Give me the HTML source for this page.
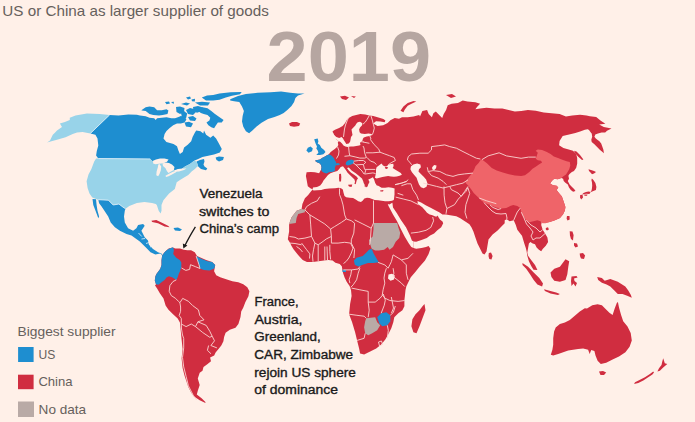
<!DOCTYPE html>
<html><head><meta charset="utf-8">
<style>
html,body{margin:0;padding:0;background:#FFF0E8;}
body{width:695px;height:422px;overflow:hidden;position:relative;font-family:"Liberation Sans",sans-serif;}
svg{position:absolute;left:0;top:0;}
.t{position:absolute;white-space:nowrap;}
</style></head><body>
<svg width="695" height="422" viewBox="0 0 695 422">
<g id="map" stroke="none">
<!--MAP-->
<path fill="#98D3E9" d="M69.8,117.8 75.5,115.6 86.9,113.5 99.7,113.9 109.6,114.9 90.4,133.4 82.6,132.0 77.0,132.4 72.7,134.1 65.6,137.2 57.0,139.8 51.4,141.2 47.1,142.6 46.0,143.2 50.0,140.5 52.8,134.8 54.9,132.7 57.0,130.5 62.0,127.0 59.9,123.4 64.9,122.0 69.8,119.9Z"/>
<path fill="#1E8ED0" d="M109.6,114.9 118.5,115.5 128.4,114.5 136.9,114.8 140.0,115.4 145.7,116.3 149.5,117.7 154.2,118.2 155.6,120.1 157.1,118.2 161.8,117.7 166.5,117.3 171.3,118.2 175.0,118.2 177.9,117.3 180.8,115.9 184.5,116.8 186.4,119.6 184.5,122.5 180.8,123.4 177.0,123.4 173.2,125.3 169.4,128.2 166.5,131.0 164.6,133.9 163.5,138.4 166.4,141.9 173.5,144.1 177.0,146.2 178.4,150.5 179.9,154.0 182.7,151.9 184.1,147.6 187.7,144.8 191.2,141.2 192.6,137.0 194.8,132.7 196.2,130.6 200.5,131.3 203.3,133.4 204.0,130.6 206.1,134.8 210.4,137.7 213.2,135.5 216.1,138.4 218.9,143.4 221.8,149.0 219.8,152.5 214.0,154.6 208.2,155.8 202.4,157.0 198.2,159.1 194.1,160.8 189.9,164.1 185.0,166.6 181.3,169.3 177.8,169.7 174.4,170.6 173.5,168.0 170.9,166.7 167.5,165.8 164.0,165.0 165.7,161.1 159.7,160.2 152.8,161.5 150.2,158.9 98.3,158.5 96.1,155.4 96.8,151.1 98.3,145.5 97.5,138.4 95.4,134.8 90.4,133.4Z"/>
<path fill="#1E8ED0" d="M196.6,161.6 199.9,160.0 204.0,159.1 204.5,161.5 203.5,164.5 204.5,166.5 207.3,168.5 206.0,170.2 201.0,169.0 198.2,166.6 197.4,164.1Z"/>
<path fill="#1E8ED0" d="M215.6,157.5 219.0,156.6 223.9,157.0 223.0,160.0 219.0,161.6 216.5,160.0Z"/>
<path fill="#1E8ED0" d="M141.4,110.2 145.7,107.3 149.5,106.4 154.2,107.3 157.1,110.2 161.8,110.2 166.5,109.2 168.4,110.6 167.5,114.0 162.7,114.9 159.0,115.4 153.3,114.9 149.5,114.0 145.7,111.1 141.9,110.6Z"/>
<path fill="#1E8ED0" d="M176.0,107.0 180.0,106.4 184.5,108.0 184.0,112.0 180.0,114.0 176.5,112.0Z"/>
<path fill="#1E8ED0" d="M186.0,110.0 190.0,108.0 194.0,109.0 196.0,112.0 193.0,115.0 188.0,114.0Z"/>
<path fill="#1E8ED0" d="M181.0,104.0 186.0,102.5 190.0,103.5 187.0,105.5Z"/>
<path fill="#1E8ED0" d="M195.0,102.6 202.0,101.8 210.0,102.6 208.0,105.4 200.0,105.4Z"/>
<path fill="#1E8ED0" d="M184.5,122.5 189.0,121.8 193.0,123.5 191.0,127.2 186.0,126.5Z"/>
<path fill="#1E8ED0" d="M188.0,117.0 193.0,116.0 196.5,118.5 195.0,121.0 190.0,120.5Z"/>
<path fill="#1E8ED0" d="M193.0,107.0 198.0,106.0 203.0,107.5 202.0,111.0 197.0,112.7 193.5,111.0Z"/>
<path fill="#1E8ED0" d="M165.0,102.0 169.0,101.4 170.0,103.5 166.5,104.2Z"/>
<path fill="#1E8ED0" d="M171.0,102.0 174.0,101.8 173.5,104.0Z"/>
<path fill="#1E8ED0" d="M186.0,97.5 190.0,96.6 191.0,98.5 188.0,99.5Z"/>
<path fill="#1E8ED0" d="M191.5,99.5 195.0,98.8 194.8,101.4 192.0,101.2Z"/>
<path fill="#1E8ED0" d="M180.6,111.0 184.0,110.9 187.2,113.5 186.0,118.4 182.0,117.5Z"/>
<path fill="#1E8ED0" d="M199.0,109.2 202.7,107.3 207.5,108.3 211.3,111.1 215.0,114.0 218.9,116.8 223.6,120.1 221.7,122.5 217.9,122.5 216.0,125.3 214.1,128.2 211.3,127.2 208.4,125.3 206.5,122.5 209.4,120.6 210.3,117.7 207.5,114.9 203.7,114.0 200.9,113.0 198.0,111.1Z"/>
<path fill="#1E8ED0" d="M201.8,97.5 207.0,95.5 213.2,95.0 219.5,93.5 230.6,92.3 241.7,91.9 240.0,94.2 232.0,95.8 225.8,97.4 219.5,99.8 213.2,100.6 206.0,100.6Z"/>
<path fill="#1E8ED0" d="M230.2,99.3 238.0,96.1 245.9,94.1 257.6,92.8 270.6,92.2 281.1,91.5 290.2,92.8 298.0,93.5 304.5,93.5 298.0,95.4 295.4,98.0 294.1,102.0 291.5,105.9 287.6,109.8 283.7,113.0 279.8,115.0 274.5,116.9 268.0,118.9 261.5,122.8 256.3,126.7 252.4,130.6 249.1,133.2 245.9,131.3 243.3,126.7 242.0,121.5 242.6,116.3 243.9,111.1 242.0,106.5 239.3,102.0 234.1,101.3 230.2,100.6Z"/>
<path fill="#D02D40" d="M289.0,123.5 292.0,122.0 297.0,122.0 300.2,123.5 299.0,126.0 294.0,126.7 290.0,126.0Z"/>
<path fill="#98D3E9" d="M96.1,158.5 150.2,158.9 152.8,161.5 159.7,160.2 165.7,161.1 164.0,165.0 167.5,165.8 170.9,166.7 173.5,168.0 174.4,170.6 177.8,169.7 181.3,169.3 185.0,166.6 189.9,164.1 194.1,160.8 196.6,161.6 197.4,164.1 198.2,166.6 197.4,166.6 194.9,169.1 191.6,171.6 188.3,174.9 184.1,177.4 180.0,179.9 176.7,182.3 174.8,188.9 169.1,193.6 163.4,200.2 161.5,205.0 161.5,210.7 160.6,213.5 158.7,210.7 156.8,205.0 155.8,204.0 152.0,203.1 144.5,202.1 136.9,203.1 129.3,205.9 125.5,208.8 122.7,206.9 118.9,204.0 113.2,205.0 108.4,200.2 98.0,199.7 92.3,197.4 89.5,193.6 87.6,187.9 86.6,181.3 88.5,174.6 91.4,169.0 94.2,161.4Z"/>
<path fill="#1E8ED0" d="M98.3,199.7 108.4,200.2 113.2,205.0 118.9,204.0 122.7,206.9 125.5,208.8 124.8,210.8 124.0,216.6 124.8,222.4 128.1,228.2 133.1,230.7 136.4,228.2 138.1,224.9 143.1,224.0 144.7,225.7 141.4,230.7 144.7,237.3 148.0,240.6 148.9,244.8 153.0,248.9 158.0,252.2 161.5,253.5 162.2,255.5 160.3,253.6 155.4,254.6 150.5,252.2 146.4,248.1 139.8,241.4 131.5,235.6 126.5,234.0 119.9,230.7 114.9,227.3 110.7,222.4 108.2,216.6 104.9,211.6 101.6,206.6 99.1,203.3Z"/>
<path fill="#1E8ED0" d="M92.5,199.1 96.0,199.3 96.6,205.0 97.5,210.8 99.1,216.6 98.3,218.2 95.8,211.6 93.3,205.0Z"/>
<path fill="#D02D40" d="M151.4,220.7 156.3,219.9 163.0,223.2 168.0,225.7 169.6,227.3 164.6,226.5 158.0,223.2 152.2,221.9Z"/>
<path fill="#1E8ED0" d="M173.5,228.0 178.0,227.5 182.0,229.5 180.0,231.0 175.0,230.5Z"/>
<path fill="#FFF0E8" d="M153.0,160.8 156.0,159.5 160.0,158.6 164.5,158.4 168.5,159.5 167.0,161.8 163.0,163.2 159.0,163.7 155.5,164.3 153.2,163.5Z"/>
<path fill="#FFF0E8" d="M159.5,164.0 161.2,166.5 160.8,170.5 159.5,174.0 158.2,176.3 156.3,175.3 156.6,171.5 157.8,167.5 158.3,164.5Z"/>
<path fill="#FFF0E8" d="M162.5,163.5 166.0,162.5 169.0,163.0 172.0,164.5 174.5,167.0 173.8,170.0 171.0,171.5 168.5,173.0 167.0,171.3 165.5,168.3 163.0,166.0Z"/>
<path fill="#FFF0E8" d="M165.5,175.8 169.0,173.8 173.0,171.8 177.0,170.5 176.0,172.3 172.0,174.5 168.5,176.2 166.0,177.0Z"/>
<path fill="#FFF0E8" d="M174.5,170.2 178.0,169.0 182.5,168.4 186.5,168.4 184.0,170.0 179.0,171.5 175.0,171.8Z"/>
<path fill="#D02D40" d="M162.2,255.2 165.2,251.5 168.7,248.5 172.5,247.6 175.4,248.5 177.3,248.5 180.0,248.5 183.7,249.7 187.4,250.3 191.1,250.3 194.8,252.2 197.0,256.0 206.1,260.1 212.1,262.1 215.2,265.1 214.1,271.2 216.2,275.2 220.2,277.2 226.2,279.2 232.3,281.2 238.3,282.2 243.3,284.2 247.3,287.3 249.4,291.3 248.4,296.3 245.3,302.3 243.3,307.4 241.2,311.4 240.5,317.0 238.4,324.1 235.5,327.7 229.8,329.8 225.6,332.7 224.1,336.9 223.4,341.2 221.3,345.5 218.5,349.0 215.6,352.6 214.2,355.4 210.1,357.5 211.0,361.3 207.3,364.2 203.5,367.0 202.5,370.8 199.7,372.7 197.8,378.4 199.7,385.0 197.8,390.7 196.8,394.5 201.6,398.3 205.4,402.1 205.4,403.1 199.7,400.2 194.0,396.4 191.1,392.6 188.3,386.9 186.4,381.2 184.5,375.5 182.6,368.0 181.6,358.5 182.6,349.0 181.6,339.5 180.7,330.0 179.9,322.6 177.7,318.4 172.8,314.1 168.5,309.8 165.6,305.6 163.5,298.4 160.0,293.5 157.1,288.5 155.0,285.6 156.0,284.2 154.8,280.5 155.4,276.2 156.6,273.7 158.5,271.3 160.3,268.8 161.5,265.1 161.5,260.2 162.2,255.2Z"/>
<path fill="#1E8ED0" d="M162.2,255.2 165.2,251.5 168.3,249.1 170.8,247.9 173.2,247.2 173.9,250.3 173.2,254.0 176.3,257.7 180.0,260.2 181.3,262.6 181.3,267.6 180.0,271.3 178.8,273.7 177.6,277.4 176.3,279.9 172.6,277.4 168.9,276.2 166.5,277.4 164.6,279.9 161.5,282.3 158.5,284.8 156.0,284.2 154.8,280.5 155.4,276.2 156.6,273.7 158.5,271.3 160.3,268.8 161.5,265.1 161.5,260.2Z"/>
<path fill="#1E8ED0" d="M196.2,256.1 201.9,259.0 207.6,261.3 212.1,262.1 215.2,265.1 214.3,268.5 209.5,270.4 203.8,270.0 200.0,268.5 199.0,264.7 197.2,260.0Z"/>
<path fill="#D02D40" d="M332.8,132.2 332.6,131.2 335.0,129.7 339.1,128.1 342.6,126.1 345.1,123.1 346.7,120.1 348.7,118.1 352.2,116.1 356.2,115.1 360.3,114.0 365.3,114.5 369.3,115.5 373.3,116.0 378.4,117.6 383.4,119.1 385.4,120.6 384.7,122.3 380.4,121.6 376.0,121.2 373.2,123.5 377.5,125.9 383.2,125.2 387.6,123.1 390.4,120.2 394.7,118.0 399.0,118.7 402.0,117.3 407.7,117.3 413.5,116.6 419.2,115.1 420.0,116.4 422.4,110.9 427.1,110.1 428.7,114.0 431.9,117.2 433.4,113.2 435.8,111.6 439.0,114.8 442.2,118.0 443.7,114.0 446.1,110.1 447.7,105.3 451.6,103.7 458.0,102.9 462.7,100.6 467.5,101.4 475.4,102.2 480.1,103.7 477.0,106.9 475.4,109.3 480.1,108.5 486.5,107.7 494.4,108.5 502.3,108.5 508.6,110.1 514.9,111.6 521.3,110.9 527.9,110.0 535.8,110.8 543.7,112.4 551.6,113.2 559.6,114.0 565.9,116.4 572.2,115.6 580.1,114.8 586.5,115.6 590.0,116.2 596.2,116.9 600.8,120.8 605.4,123.8 599.2,124.6 603.8,126.9 611.5,128.5 607.0,130.8 605.2,132.6 601.6,132.6 598.0,133.5 595.3,134.4 594.4,136.7 595.8,138.5 598.0,140.3 599.4,141.2 601.2,143.4 602.1,146.1 603.4,149.7 603.9,153.3 602.5,152.0 599.8,149.7 597.1,147.0 594.4,144.3 591.7,142.1 591.3,139.8 592.2,136.7 591.7,133.5 590.8,132.5 589.0,130.0 587.7,129.3 584.9,129.8 580.1,131.4 575.4,133.0 569.1,134.6 562.7,136.1 559.6,140.9 559.1,145.3 563.4,148.0 568.7,149.6 573.0,150.7 576.2,153.9 577.2,158.1 577.2,163.5 576.2,167.7 574.0,170.9 571.9,172.0 569.5,174.0 568.4,175.7 569.0,178.7 567.8,181.0 569.6,184.6 572.0,186.9 574.3,189.3 575.5,191.1 573.1,191.7 570.8,189.9 569.0,187.5 567.8,184.6 565.4,182.8 563.7,181.0 563.1,178.7 561.3,178.1 557.8,179.2 554.2,178.7 551.8,181.0 550.1,183.4 553.0,185.2 556.6,185.8 558.3,187.5 556.6,189.9 558.9,192.9 561.9,196.4 563.1,200.0 564.3,203.5 565.4,207.1 564.9,210.6 563.1,214.2 560.0,218.1 554.3,220.4 549.7,221.9 545.1,222.7 542.0,220.4 541.2,225.0 542.7,229.7 545.1,233.5 547.4,237.4 548.1,242.0 545.8,245.8 542.7,248.9 541.2,251.2 538.9,249.7 536.6,247.4 535.0,244.3 532.7,243.5 530.4,242.0 528.9,243.5 528.1,248.1 527.3,252.8 528.1,255.8 530.4,258.9 532.7,262.0 535.0,265.1 536.6,268.2 537.4,270.0 533.5,269.7 531.2,265.9 528.9,261.2 527.3,255.8 526.6,251.2 525.8,248.1 524.3,243.5 522.0,235.8 519.6,232.7 517.3,229.7 515.8,225.0 513.7,220.3 509.7,221.3 506.7,219.3 504.7,220.3 504.7,223.3 501.7,226.3 497.6,230.4 492.6,234.4 488.5,239.4 487.5,245.5 486.5,251.5 484.5,254.6 482.5,253.5 480.5,249.5 477.5,243.5 475.4,237.4 473.4,231.4 471.4,227.3 469.4,224.3 466.4,222.3 463.3,220.3 460.3,218.3 456.3,216.3 450.2,215.2 446.0,214.6 442.4,214.6 439.6,212.6 435.3,210.3 431.1,208.0 426.1,205.4 421.1,202.5 417.5,201.0 417.8,204.0 422.3,207.2 425.2,210.6 427.0,212.8 429.7,214.4 432.5,215.3 435.3,216.4 436.8,216.6 437.6,215.6 438.8,217.8 440.2,219.8 442.5,221.5 443.2,223.3 441.2,227.3 437.1,230.4 434.1,233.4 430.1,235.4 426.8,238.1 421.5,239.9 416.2,241.7 413.5,241.5 413.5,247.9 416.2,248.8 421.5,247.9 426.0,247.0 428.6,246.1 430.4,248.8 428.6,254.1 425.0,260.4 419.7,266.6 415.3,271.9 410.8,277.3 408.2,282.6 406.4,286.2 405.5,290.0 404.9,296.0 404.4,300.1 404.4,306.2 402.4,310.2 398.3,313.2 394.3,317.2 393.3,322.3 391.3,328.3 388.3,334.3 385.3,339.4 381.2,344.4 376.2,348.4 370.2,351.4 364.1,354.4 360.1,353.4 359.1,348.4 357.1,340.4 355.1,332.3 352.1,322.3 349.1,314.2 350.1,304.1 351.6,296.0 351.0,290.0 349.6,286.1 346.8,281.9 344.6,277.6 343.2,273.4 342.5,270.5 341.8,266.3 339.7,264.1 335.4,262.7 332.6,260.6 328.3,259.9 324.0,260.6 318.4,261.3 312.7,262.0 307.0,262.0 302.7,259.9 299.2,256.3 296.3,252.8 293.5,249.2 291.4,245.7 290.0,242.8 287.8,239.3 288.5,235.0 289.1,231.4 289.1,224.8 290.0,221.4 291.6,217.3 294.1,214.0 296.6,210.7 301.6,209.0 302.4,204.0 304.9,198.2 308.2,194.9 311.5,190.8 313.0,189.5 310.4,188.2 307.8,186.3 307.2,183.0 306.5,179.1 305.9,175.9 306.6,172.3 310.8,171.9 314.9,172.3 319.1,173.2 321.1,169.4 321.5,167.4 321.1,165.3 319.9,163.6 317.4,162.4 315.7,161.6 315.3,160.3 317.4,159.9 319.9,159.5 322.4,157.8 324.9,156.6 326.5,155.4 328.6,154.5 330.7,152.1 333.0,150.2 334.8,149.1 337.3,146.7 338.3,145.0 337.8,142.6 338.7,141.2 336.5,139.5Z"/>
<path fill="#FFF0E8" d="M336.5,139.5 338.7,141.2 340.2,141.7 342.0,143.6 343.5,145.5 345.4,146.4 347.7,146.9 350.6,146.4 353.4,146.4 356.3,145.9 359.1,145.5 360.5,145.0 360.0,143.1 361.0,141.7 362.4,140.7 362.9,138.8 363.8,137.4 366.7,136.5 369.5,136.0 372.3,135.0 371.4,134.1 368.6,133.6 364.8,134.1 361.0,133.6 359.6,132.2 359.1,129.4 360.0,127.5 361.9,125.6 362.4,123.2 360.0,121.8 357.7,122.3 356.3,123.7 355.3,125.6 353.4,127.5 351.5,129.4 352.0,132.2 352.5,135.0 351.0,136.9 350.6,139.3 350.1,141.7 348.7,143.6 346.3,144.0 345.4,142.6 343.9,140.3 343.0,138.4 341.6,136.9 339.2,137.9 336.4,136.9 334.0,135.0 333.0,132.2 334.0,137.0Z"/>
<path fill="#FFF0E8" d="M312.5,189.5 313.0,187.6 317.0,186.9 320.2,185.6 322.2,183.0 323.5,180.5 325.8,177.8 328.0,175.0 330.4,173.2 333.8,172.1 337.3,170.9 339.0,169.2 340.7,166.9 343.0,166.3 345.3,169.2 347.6,172.7 349.9,175.0 352.2,177.3 354.5,179.6 355.1,181.9 354.3,183.5 355.7,184.2 356.8,180.1 358.0,178.4 356.8,176.7 354.5,175.0 351.1,172.7 348.8,170.4 347.0,168.1 348.8,167.5 351.6,170.4 355.7,173.2 359.1,176.1 362.0,178.4 363.2,181.3 363.7,183.0 364.9,185.3 366.0,187.6 367.2,186.5 368.3,184.2 369.5,181.9 368.3,179.6 370.6,178.4 372.9,177.3 374.1,179.6 375.2,183.0 376.8,185.5 378.2,185.8 381.6,187.8 385.1,187.8 388.5,187.3 392.0,187.8 394.6,188.6 394.5,191.1 394.5,194.5 394.0,199.1 393.7,199.9 392.0,200.7 388.5,201.2 385.1,201.2 381.6,200.7 378.2,200.3 374.7,199.9 372.1,199.0 369.5,198.1 367.0,197.7 364.4,198.6 362.6,200.7 360.9,202.0 358.3,201.2 355.7,199.4 353.1,198.1 349.7,197.7 346.2,197.3 344.5,196.0 343.6,193.0 342.8,189.5 341.0,188.2 338.5,187.8 335.0,188.2 329.2,188.5 324.6,189.0 321.2,190.0 317.0,190.2 313.5,190.5Z"/>
<path fill="#FFF0E8" d="M376.6,167.2 379.5,164.9 381.5,163.5 383.0,165.5 385.2,166.6 387.0,166.0 388.7,164.6 391.0,164.0 393.3,163.7 393.6,166.0 392.7,168.1 395.0,169.5 397.9,171.2 400.8,172.9 401.9,174.7 399.6,175.8 396.7,176.4 393.9,176.7 391.0,176.4 388.1,176.1 385.2,176.4 382.4,177.0 379.5,177.8 376.6,178.4 374.9,177.8 375.5,175.2 376.0,172.4 376.0,169.5Z"/>
<path fill="#D02D40" d="M384.8,167.3 386.5,166.8 388.2,167.6 387.0,169.0 385.5,168.8Z"/>
<path fill="#FFF0E8" d="M413.3,164.5 417.1,163.5 420.4,164.5 420.9,167.3 419.0,169.2 418.5,171.6 420.9,174.0 423.7,176.8 426.1,179.6 427.5,183.4 426.5,186.8 423.7,188.2 420.9,187.2 419.0,184.4 417.5,180.6 416.6,177.7 414.2,174.9 411.8,172.1 410.4,169.2 410.9,166.4Z"/>
<path fill="#FFF0E8" d="M432.2,167.3 434.1,165.0 436.5,165.4 436.0,168.3 434.1,170.2 432.2,169.2Z"/>
<path fill="#FFF0E8" d="M387.8,204.1 389.5,204.6 391.0,203.5 392.4,202.8 393.0,207.4 396.9,213.2 400.8,219.8 406.1,227.6 410.0,235.4 411.9,240.6 413.6,241.5 413.6,247.9 411.3,247.1 408.7,243.2 404.8,236.7 400.8,228.9 396.9,221.1 393.0,214.5 388.5,206.1Z"/>
<path fill="#FFF0E8" d="M388.5,274.5 392.0,273.7 394.8,275.5 394.0,279.5 390.5,280.8 388.0,278.5Z"/>
<path fill="#1E8ED0" d="M315.3,160.3 317.4,159.9 319.9,159.5 322.4,157.8 324.9,156.6 326.5,155.4 328.6,154.5 330.7,154.9 332.3,156.2 334.0,158.3 334.8,160.3 336.0,162.0 336.3,164.0 335.6,166.1 334.8,168.2 335.2,170.3 334.0,171.5 331.5,171.9 329.0,172.3 326.5,173.6 324.0,172.8 322.0,171.5 321.1,169.4 321.5,167.4 321.1,165.3 319.9,163.6 317.4,162.4 315.7,161.6Z"/>
<path fill="#1E8ED0" d="M335.7,163.8 337.5,162.9 339.5,163.5 339.8,164.7 338.0,165.2 336.0,165.2Z"/>
<path fill="#1E8ED0" d="M346.0,162.3 347.8,160.4 351.6,159.6 354.2,160.8 353.8,163.2 350.6,164.7 347.4,165.4 345.6,164.2Z"/>
<path fill="#1E8ED0" d="M314.2,139.3 317.7,138.6 318.4,141.4 317.7,143.5 319.9,144.9 321.3,147.8 324.1,149.9 325.5,152.0 323.4,154.2 319.9,154.9 316.3,154.9 318.4,152.8 317.7,150.6 316.3,148.5 317.0,146.4 315.6,143.5 314.9,141.4Z"/>
<path fill="#1E8ED0" d="M307.8,147.8 310.6,146.4 312.8,148.5 312.0,151.3 308.5,152.8 306.4,150.6Z"/>
<path fill="#B9AAA6" d="M304.9,209.8 301.6,209.0 296.6,210.7 294.1,214.0 291.6,217.3 290.0,221.4 289.1,223.9 295.8,223.1 296.6,218.1 298.2,214.0 304.9,212.3Z"/>
<path fill="#B9AAA6" d="M373.5,223.0 397.2,223.0 398.4,227.5 400.2,232.8 399.3,238.1 395.7,241.7 393.0,247.0 389.5,249.7 387.7,247.0 384.1,249.7 378.8,250.6 375.2,250.6 371.7,248.8 369.9,243.5 369.0,239.9 372.6,236.4 373.5,229.2Z"/>
<path fill="#1E8ED0" d="M369.0,249.7 371.7,248.8 373.5,253.3 376.1,257.7 378.8,262.2 373.5,263.0 368.1,263.0 362.8,264.8 358.3,266.6 354.8,264.8 353.9,260.4 356.6,257.7 362.8,255.9 366.4,252.4Z"/>
<path fill="#1E8ED0" d="M342.5,269.8 345.8,269.8 346.0,271.9 342.6,271.9Z"/>
<path fill="#B9AAA6" d="M366.2,318.2 375.2,317.2 377.2,322.3 380.2,325.3 377.2,330.3 372.2,333.3 368.2,335.3 365.2,333.3 364.1,327.3 365.2,321.2Z"/>
<path fill="#1E8ED0" d="M377.2,317.2 381.2,313.2 386.3,312.2 390.3,315.2 390.3,321.2 387.3,325.3 382.3,326.3 379.2,323.3Z"/>
<path fill="#EF6469" d="M465.4,182.8 466.6,180.5 469.0,176.9 472.5,172.8 474.3,169.2 475.5,166.3 478.4,163.3 480.8,159.7 482.0,159.6 486.9,163.2 491.8,168.1 496.7,170.6 502.8,172.4 508.9,174.2 515.0,175.5 521.1,176.1 525.0,175.2 529.3,172.0 532.5,168.8 535.7,166.7 538.9,164.5 542.1,162.4 541.0,160.8 537.8,160.3 535.7,158.7 536.7,156.0 537.8,152.8 535.7,150.7 537.8,149.6 542.1,150.1 546.3,151.7 550.6,153.9 553.8,156.5 558.0,158.1 562.3,159.7 566.6,161.3 569.8,161.9 570.3,165.6 569.2,169.3 567.6,172.0 566.0,174.6 563.4,176.2 561.3,178.1 557.8,179.2 554.2,178.7 551.8,181.0 550.1,183.4 553.0,185.2 556.6,185.8 558.3,187.5 556.6,189.9 558.9,192.9 561.9,196.4 563.1,200.0 564.3,203.5 565.4,207.1 564.9,210.6 563.1,214.2 560.0,218.1 554.3,220.4 549.7,221.9 545.5,223.2 542.4,223.2 540.4,221.2 537.4,220.2 533.4,221.2 529.3,222.2 526.3,220.2 523.3,216.2 521.3,212.2 520.3,208.1 517.3,206.1 513.2,205.1 510.2,206.1 506.2,208.1 501.1,208.6 496.1,207.6 490.1,205.1 484.0,202.6 480.8,200.0 477.3,196.5 473.7,192.9 471.3,189.4 468.4,185.8Z"/>
<path fill="#D02D40" d="M424.5,304.1 425.5,310.2 422.5,318.2 419.5,326.3 416.5,333.3 413.4,332.3 411.4,326.3 412.4,319.2 415.5,314.2 419.5,310.2 422.5,306.2Z"/>
<path fill="#D02D40" d="M488.8,253.0 491.0,252.5 492.6,256.0 491.5,259.6 489.3,259.0 488.5,256.0Z"/>
<path fill="#D02D40" d="M591.9,178.4 593.4,179.9 595.4,182.9 596.4,186.9 595.9,189.9 593.4,190.9 590.9,191.9 588.5,191.4 586.0,191.9 583.5,192.9 582.0,194.4 584.0,194.3 586.0,193.8 589.4,194.0 590.5,192.3 591.6,190.3 592.0,188.0 592.2,185.5 592.0,182.4 591.4,180.0Z"/>
<path fill="#D02D40" d="M580.2,195.0 582.5,194.8 583.0,197.5 581.2,199.4 580.0,197.5Z"/>
<path fill="#D02D40" d="M584.2,194.6 587.5,194.5 587.0,195.8 584.5,195.8Z"/>
<path fill="#D02D40" d="M588.5,169.3 591.0,170.0 594.0,171.0 596.0,172.0 594.0,173.5 592.0,174.2 590.5,172.5 589.0,171.0Z"/>
<path fill="#D02D40" d="M574.0,150.7 576.5,151.5 580.0,155.0 583.4,159.6 582.0,160.0 578.0,156.5 575.0,153.0Z"/>
<path fill="#D02D40" d="M567.0,216.0 569.5,216.0 569.7,219.5 567.5,220.4 566.6,218.5Z"/>
<path fill="#D02D40" d="M545.8,228.0 548.0,227.3 548.9,229.5 547.0,230.4 545.8,229.5Z"/>
<path fill="#D02D40" d="M569.7,231.2 572.5,231.5 573.6,235.0 573.0,240.4 571.0,239.0 570.0,235.5Z"/>
<path fill="#D02D40" d="M574.0,243.0 577.0,243.5 578.0,246.5 575.5,247.5 574.0,245.5Z"/>
<path fill="#D02D40" d="M579.7,253.5 583.0,253.0 585.1,255.5 584.0,258.9 581.0,258.5 580.0,256.0Z"/>
<path fill="#D02D40" d="M522.5,263.1 528.1,266.8 533.7,272.4 539.3,278.0 543.0,283.6 542.1,286.4 537.4,284.6 533.7,279.9 530.0,274.3 526.2,268.7 522.5,265.0Z"/>
<path fill="#D02D40" d="M544.0,289.3 550.5,291.1 556.1,292.6 559.9,293.9 558.0,294.9 550.5,293.4 544.9,291.1Z"/>
<path fill="#D02D40" d="M550.5,272.4 554.3,268.7 559.9,266.8 562.7,263.1 565.5,259.3 569.2,261.2 568.3,266.8 567.3,274.3 565.5,279.9 559.9,281.8 554.3,280.8 551.4,277.1Z"/>
<path fill="#D02D40" d="M571.5,276.5 576.5,276.0 577.6,277.5 574.0,278.5 574.5,281.0 577.0,283.0 575.5,286.4 573.5,283.5 571.5,286.0 571.0,281.0Z"/>
<path fill="#D02D40" d="M597.2,277.1 601.9,278.0 604.7,280.8 610.3,279.0 617.8,281.8 625.3,286.4 628.1,290.2 630.9,294.9 631.8,297.7 627.2,295.8 622.5,293.9 617.8,293.9 614.1,290.2 610.3,286.4 606.6,284.6 601.9,282.7 598.2,279.9Z"/>
<path fill="#D02D40" d="M553.2,338.2 554.1,331.5 555.7,327.4 559.9,324.1 564.9,322.4 569.8,319.9 574.8,315.8 579.8,311.6 584.8,308.3 587.0,308.5 592.3,305.3 597.6,304.2 601.9,305.3 605.1,308.5 609.4,312.7 612.6,314.9 614.7,308.5 616.8,303.1 617.9,302.1 619.0,307.4 621.1,314.9 623.2,321.2 627.5,326.6 630.7,333.0 631.8,340.4 629.6,346.8 625.4,352.2 619.0,356.4 612.6,359.6 606.2,362.8 600.8,363.9 597.6,360.7 595.5,355.4 594.4,351.1 591.2,350.0 589.7,353.9 588.1,349.8 583.1,348.5 578.1,348.9 573.1,349.8 568.2,350.6 563.2,352.3 558.2,353.9 553.2,355.6 550.8,354.8 552.4,349.8 553.2,344.8Z"/>
<path fill="#D02D40" d="M599.0,371.4 603.0,371.0 606.2,372.5 604.0,375.0 600.5,375.0Z"/>
<path fill="#D02D40" d="M663.2,358.2 664.8,363.2 667.3,364.0 663.2,367.4 659.9,370.7 657.4,371.5 659.0,368.2 661.5,364.9 662.3,361.6Z"/>
<path fill="#D02D40" d="M653.2,371.5 649.9,374.0 644.9,377.3 640.0,379.8 635.0,382.3 634.1,383.9 638.3,383.1 643.3,380.6 648.2,377.3 652.4,374.5 654.0,372.5Z"/>
<path fill="#D02D40" d="M400.5,110.8 403.4,106.5 407.7,102.9 413.5,101.0 416.3,101.5 412.0,103.6 407.7,105.8 404.8,109.4 403.4,112.3Z"/>
<path fill="#D02D40" d="M340.0,96.5 345.0,95.7 349.0,97.5 346.0,100.0 342.0,99.0Z"/>
<path fill="#D02D40" d="M351.0,96.0 355.9,96.5 354.0,98.0Z"/>
<path fill="#D02D40" d="M446.0,95.0 452.0,94.0 456.0,96.5 451.0,98.0Z"/>
<path fill="#D02D40" d="M339.2,174.0 341.0,173.8 341.3,177.0 341.0,181.5 339.3,181.5 339.0,178.0Z"/>
<path fill="#D02D40" d="M348.0,184.7 352.3,184.5 351.5,186.9 349.0,186.5Z"/>
<path fill="#D02D40" d="M364.4,185.5 368.0,185.2 367.5,186.6 364.6,186.6Z"/>
<path fill="#D02D40" d="M380.0,190.5 383.5,190.0 383.0,191.5 380.5,191.6Z"/>
<g fill="none" stroke="#FAD6D3" stroke-width="0.9" stroke-linejoin="round"><path d="M196.2,256.1 199.0,264.7 200.0,268.5"/><path d="M200.0,268.5 195.3,266.6 190.5,264.7 189.6,269.4 185.8,270.4 181.5,268.0"/><path d="M169.9,285.6 169.2,291.3 171.3,295.6 175.6,298.4 178.4,301.3 179.9,302.7 180.6,307.0 180.6,311.3 179.2,315.5 181.3,318.4"/><path d="M176.3,279.9 173.0,281.5 169.9,285.6"/><path d="M179.9,302.7 182.7,298.4 188.4,301.3 192.7,305.6 198.4,309.8 199.8,315.5 204.0,319.8 197.9,321.8"/><path d="M181.3,318.4 181.3,324.0 184.1,325.5 186.1,326.6 191.3,324.0 195.5,326.6 197.9,321.8"/><path d="M181.3,324.0 181.5,329.0 182.5,335.0 183.7,338.4 183.7,347.9 182.5,357.4 183.7,366.9 186.1,376.4 188.4,385.8 193.2,395.3 196.7,400.0"/><path d="M197.9,321.8 206.2,325.4 209.8,331.3 212.1,336.1"/><path d="M195.5,326.6 202.7,332.5 209.8,337.3 212.1,336.1 214.5,340.8 210.9,345.5 216.9,347.9"/><path d="M208.6,345.5 207.4,350.3 211.0,353.8"/><path d="M319.8,196.7 317.3,200.8 311.5,203.3 306.6,206.6 304.9,209.9"/><path d="M304.9,209.9 309.9,214.9 318.2,219.9 324.8,224.0 330.6,229.0 334.7,226.5 341.4,222.4 346.3,219.0 351.3,220.7 354.6,223.2 353.8,233.1 351.3,239.8 351.3,243.1"/><path d="M309.9,214.9 310.7,224.9 311.5,236.4 304.9,238.1 298.3,239.0 295.0,237.3 289.5,236.5"/><path d="M330.6,229.0 331.4,236.4 326.4,238.9 323.1,241.4 318.2,244.8 314.9,243.1 311.5,236.4"/><path d="M339.5,188.5 339.5,194.5 341.4,199.2 343.0,204.9 344.7,214.9 346.3,219.0"/><path d="M354.6,219.9 362.9,224.0 371.2,228.2"/><path d="M373.5,200.5 373.5,223.0"/><path d="M331.4,236.4 331.4,243.1 338.1,243.1 344.7,242.3 350.5,243.1 353.0,248.1 351.3,253.0 348.8,258.0 346.3,261.3 343.5,263.5"/><path d="M329.8,244.8 329.8,251.4 330.6,259.5"/><path d="M327.0,246.5 327.5,260.0"/><path d="M318.2,244.8 318.2,252.0 318.2,261.3"/><path d="M324.8,246.5 324.8,260.5"/><path d="M314.9,243.1 313.5,249.7 312.5,256.0 313.0,261.8"/><path d="M301.6,243.1 306.6,249.7 309.9,253.9 309.5,258.5"/><path d="M290.0,243.1 295.0,243.5 301.6,244.8"/><path d="M296.5,246.5 300.0,249.0 302.5,252.0"/><path d="M351.3,243.1 354.6,249.7 353.9,258.0"/><path d="M343.3,269.9 351.6,269.9 358.2,269.0 359.9,266.5"/><path d="M351.6,269.9 350.8,274.8 349.1,279.8 349.9,283.1"/><path d="M359.9,268.2 358.2,273.2 356.6,279.8 353.2,284.8 350.8,287.3"/><path d="M378.1,262.4 384.8,264.9 388.1,268.2"/><path d="M393.1,254.9 391.4,261.6 389.8,264.9 388.1,268.2"/><path d="M393.1,268.2 393.9,273.2 393.1,276.5 401.4,283.1 404.7,286.5"/><path d="M401.4,259.9 406.3,264.9 406.3,273.2 408.0,279.8"/><path d="M393.1,254.9 401.4,259.9 408.0,258.3 413.0,253.3"/><path d="M386.4,268.2 384.8,273.2 384.0,278.1 384.8,283.1 383.1,289.8 382.3,294.8 384.8,298.1 389.8,300.5 398.1,301.4 404.7,300.5"/><path d="M351.6,288.1 359.9,289.8 368.2,291.4 368.2,302.1 369.2,310.2 368.2,317.2"/><path d="M368.2,302.1 375.2,302.1 380.2,298.1 383.3,294.1 385.3,300.1 384.3,305.2 381.2,313.2"/><path d="M349.1,314.2 356.1,315.2 364.1,316.2 366.2,318.2"/><path d="M357.1,340.4 364.1,338.3 365.2,333.3"/><path d="M387.3,325.3 388.3,330.3 387.3,338.3"/><path d="M391.3,297.0 392.5,303.0 393.5,308.0 391.5,313.0"/><path d="M390.3,315.2 393.3,312.5 395.3,306.0"/><path d="M373.5,223.0 371.2,228.2 370.4,239.8 369.6,244.8"/><path d="M378.5,342.0 381.5,341.0 382.5,344.5 379.5,346.0 378.5,342.0"/><path d="M408.3,156.5 411.6,154.0 419.9,153.2 428.2,153.2 431.5,149.9 431.5,146.6 438.1,145.8 444.7,144.9 449.7,146.6 456.4,148.2 463.0,151.6 469.6,154.9 476.3,158.2 480.4,159.0"/><path d="M408.3,156.5 407.4,159.9 409.9,162.3 411.6,164.8"/><path d="M427.3,167.3 428.2,171.5 433.1,170.6 439.8,171.5 446.4,174.8 453.0,176.4 458.0,174.8 464.7,173.9 472.9,173.1"/><path d="M428.2,171.5 431.5,175.6 438.1,178.1 443.1,181.4 446.4,184.7"/><path d="M423.2,183.1 429.8,184.7 436.5,186.4 443.1,188.0"/><path d="M443.1,188.0 449.7,186.4 456.4,184.7 463.0,183.1 468.0,179.8"/><path d="M449.7,186.4 451.4,189.7 458.0,193.0 461.3,196.3 464.7,191.4 468.0,186.4"/><path d="M395.0,184.7 401.6,183.1 406.6,181.4"/><path d="M482.0,159.6 488.1,155.9 499.1,152.8 506.5,155.9 521.1,158.3 528.5,157.1 535.8,157.1"/><path d="M484.0,202.6 488.0,207.0 492.0,211.0 496.0,213.5 501.0,214.0 506.0,213.5 507.0,218.0 506.7,219.3"/><path d="M490.1,205.1 493.0,207.5 498.0,209.5 501.1,208.6"/><path d="M513.7,220.3 515.5,216.0 517.3,212.0 520.3,208.1"/><path d="M521.3,212.2 524.0,218.0 526.5,224.0 530.0,228.0 533.0,232.0 531.0,236.0 533.0,240.0"/><path d="M526.3,220.2 531.0,225.0 536.0,228.0 540.0,232.0 542.7,229.7"/><path d="M533.0,240.0 536.0,238.0 540.0,238.0 545.1,233.5"/><path d="M369.4,135.0 371.0,139.0 370.5,139.7 374.1,144.5 378.8,149.2 380.0,152.2 384.8,154.0 389.5,155.7 394.2,157.5 395.4,160.5 391.9,162.3 388.3,164.6"/><path d="M371.0,116.0 372.3,120.1 373.3,124.1 374.3,128.1 373.3,132.2 372.3,134.7"/><path d="M363.4,142.1 369.4,143.3"/><path d="M361.0,141.7 364.0,142.0"/><path d="M348.6,147.0 349.2,152.8 349.8,155.7 355.1,156.9 359.9,158.1 364.6,158.1 366.4,157.5 364.6,152.8 364.0,148.0 363.0,146.0"/><path d="M344.5,156.3 349.8,155.7"/><path d="M337.5,146.7 339.0,151.0 338.5,155.0 336.5,158.5"/><path d="M365.8,152.8 372.9,152.8 380.0,152.2"/><path d="M367.0,157.5 370.5,161.1 374.1,162.3 376.5,164.6"/><path d="M353.6,161.2 358.7,160.5 363.4,160.5 365.8,162.3 363.4,164.6 364.6,169.4 375.3,169.4"/><path d="M365.8,170.0 364.6,174.1"/><path d="M364.6,174.1 372.9,172.9 375.5,173.5"/><path d="M353.0,162.6 356.0,165.0 359.0,168.0 362.0,171.0 364.0,174.0"/><path d="M356.0,165.0 361.0,164.5 363.4,164.6"/><path d="M348.5,117.5 347.0,121.0 345.5,125.0 344.5,129.0 344.0,133.0 343.5,137.0"/><path d="M369.3,115.5 367.3,119.1 365.3,122.1 362.8,124.3"/><path d="M395.7,197.1 403.3,199.0 410.9,200.9 418.5,204.7"/><path d="M410.9,233.1 418.5,232.2 426.1,230.3 430.8,227.4 433.6,220.8 432.7,217.0"/><path d="M418.5,199.9 416.6,195.2 412.8,189.5 410.9,183.8"/><path d="M401.4,185.7 407.1,183.8 410.9,183.8"/><path d="M397.6,193.3 403.3,195.2"/><path d="M444.0,186.5 444.1,195.2 445.0,202.8 446.9,208.5 446.0,213.8"/><path d="M446.9,208.5 454.5,204.7 458.3,199.0 462.1,195.2 465.9,191.4 467.8,187.6"/><path d="M467.8,187.6 469.7,193.3 467.8,199.0 465.9,204.7 465.0,212.3 466.9,218.5"/><path d="M479.2,198.0 486.8,200.9 496.3,203.7"/><path d="M408.0,179.6 406.6,181.4 401.6,183.1 395.0,184.7"/></g>
<g fill="none" stroke="#E6F3FA" stroke-width="0.8"><path d="M109.6,114.9 90.4,133.4"/><path d="M98.3,158.6 150.2,158.9"/><path d="M98.2,199.7 108.4,200.2 113.2,205.0 118.9,204.0 122.7,206.9 125.5,208.8"/><path d="M138.5,233.0 141.8,236.5"/><path d="M141.5,239.0 145.0,238.5"/><path d="M146.0,243.5 149.0,242.5"/><path d="M150.0,247.0 152.0,246.0"/></g>
<!--/MAP-->
</g>
<text x="266.6" y="81" font-family="Liberation Sans" font-weight="bold" font-size="71" fill="#B6A6A1" textLength="164.5" lengthAdjust="spacingAndGlyphs">2019</text>
<text x="2.3" y="15.6" font-family="Liberation Sans" font-size="15" fill="#66605C" textLength="266.5" lengthAdjust="spacingAndGlyphs">US or China as larger supplier of goods</text>
<g font-family="Liberation Sans" font-size="12.8" fill="#66605C">
<text x="17.6" y="335.8" textLength="98" lengthAdjust="spacingAndGlyphs">Biggest supplier</text>
<text x="38.6" y="359.3" textLength="16.8" lengthAdjust="spacingAndGlyphs">US</text>
<text x="38.4" y="386.1" textLength="34.2" lengthAdjust="spacingAndGlyphs">China</text>
<text x="38.6" y="413.6" textLength="47.5" lengthAdjust="spacingAndGlyphs">No data</text>
</g>
<rect x="18.1" y="347" width="15.5" height="15" fill="#1E8ED0"/>
<rect x="18" y="374.7" width="15.6" height="14.5" fill="#D02D40"/>
<rect x="18" y="401.5" width="16" height="15.5" fill="#B9AAA6"/>
<g font-family="Liberation Sans" font-size="12.5" fill="#1A1A1A" stroke="#1A1A1A" stroke-width="0.35" lengthAdjust="spacingAndGlyphs">
<text x="199.5" y="197.6" textLength="63" lengthAdjust="spacingAndGlyphs">Venezuela</text>
<text x="199" y="215.5" textLength="70.5" lengthAdjust="spacingAndGlyphs">switches to</text>
<text x="199.4" y="233.4" textLength="79.6" lengthAdjust="spacingAndGlyphs">China’s camp</text>
<text x="254.6" y="305.9" textLength="44" lengthAdjust="spacingAndGlyphs">France,</text>
<text x="254.4" y="323.5" textLength="48.2" lengthAdjust="spacingAndGlyphs">Austria,</text>
<text x="254.3" y="341.1" textLength="66.4" lengthAdjust="spacingAndGlyphs">Greenland,</text>
<text x="254.3" y="358.9" textLength="98.8" lengthAdjust="spacingAndGlyphs">CAR, Zimbabwe</text>
<text x="254.3" y="376.6" textLength="101.6" lengthAdjust="spacingAndGlyphs">rejoin US sphere</text>
<text x="254.3" y="394" textLength="83.7" lengthAdjust="spacingAndGlyphs">of dominance</text>
</g>
<path d="M195.4,226.8 C192.2,232 188.6,238 185.2,245" fill="none" stroke="#1A1A1A" stroke-width="1.3"/>
<path d="M183.4,248.6 L182.8,243.6 L187.4,245.6 Z" fill="#1A1A1A"/>
</svg>
</body></html>
